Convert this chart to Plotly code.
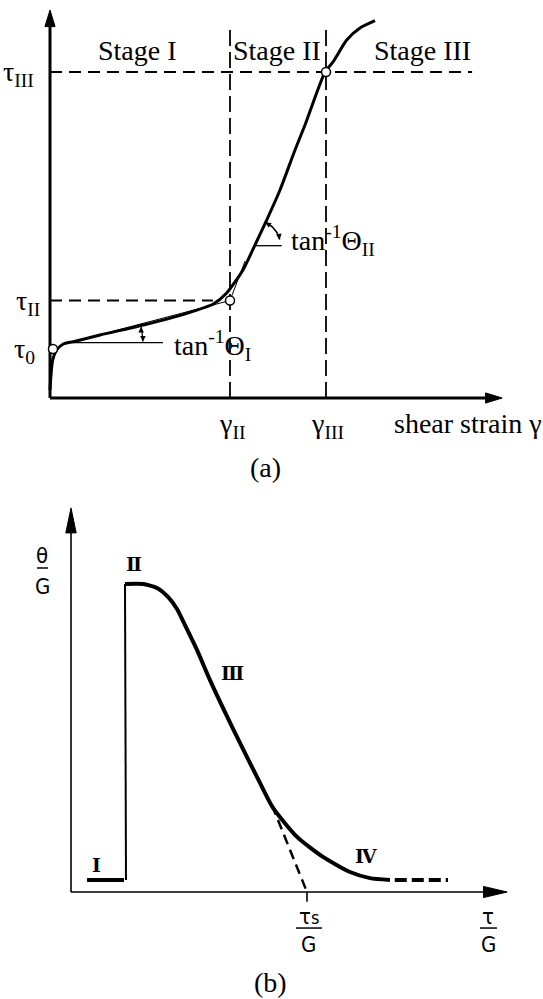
import numpy as np
import plotly.graph_objects as go

# ====================== DATA ======================
# Panel (a): resolved shear stress tau vs shear strain gamma (arbitrary units)
gamma_a = [0.0, 0.033, 0.09, 0.223, 0.443, 0.777, 1.667, 3.11, 4.557, 5.443, 5.89,
           6.433, 6.833, 7.223, 7.667, 8.167, 8.5, 9.167, 9.433, 9.89, 10.333, 10.833]
tau_a = [0.267, 0.767, 1.267, 1.6, 1.8, 1.877, 2.1, 2.433, 2.823, 3.133, 3.5,
         4.267, 5.1, 5.933, 6.933, 8.267, 9.1, 10.867, 11.2, 11.933, 12.333, 12.577]
tau_0 = 1.633
tau_II = 3.25
tau_III = 10.867
gamma_0 = 0.1
gamma_II = 6.0
gamma_III = 9.2
gamma_axis_end = 15.07
tau_axis_end = 12.93
# linear stage tangents
stageI_tangent_x = [0.777, gamma_II]
stageI_tangent_y = [1.877, tau_II]
stageII_tangent_x = [gamma_II, 6.5]
stageII_tangent_y = [tau_II, 4.56]
stage_labels = ["Stage I", "Stage II", "Stage III"]
stage_x = [2.9, 7.567, 12.4]
stage_y = 11.6

# Panel (b): hardening rate theta/G vs tau/G (arbitrary units)
stage1_x = [0.339, 1.123]
stage1_y = [0.039, 0.039]
rise_x = [1.165, 1.144]
rise_y = [0.039, 1.0]
tau_b = [1.144, 1.525, 1.822, 2.055, 2.246, 2.436, 2.669, 2.945, 3.496, 4.004,
         4.280, 4.788, 5.339, 5.911, 6.335, 6.758]
theta_b = [1.0, 1.0, 0.987, 0.958, 0.919, 0.860, 0.786, 0.688, 0.510, 0.354,
           0.273, 0.179, 0.114, 0.065, 0.045, 0.039]
stage4_x = [6.86, 7.987]
stage4_y = [0.039, 0.039]
extrap_x = [4.258, 5.0]
extrap_y = [0.282, 0.0]
tau_s = 5.0
tau_b_axis_end = 9.24
theta_axis_end = 1.247

# ====================== FIGURE ======================
fig = go.Figure()


def axes_of(p):
    return ("x", "y") if p == "a" else ("x2", "y2")


def line(p, xs, ys, width, dash="solid", shape="linear", smoothing=1.0):
    xa, ya = axes_of(p)
    fig.add_trace(go.Scatter(
        x=xs, y=ys, xaxis=xa, yaxis=ya, mode="lines",
        line=dict(color="black", width=width, dash=dash, shape=shape,
                  smoothing=smoothing),
        hoverinfo="skip", showlegend=False))


def arrow_head(p, tip_x, tip_y, direction, length, half):
    xa, ya = axes_of(p)
    if direction == "up":
        xs = [tip_x, tip_x - half, tip_x + half, tip_x]
        ys = [tip_y, tip_y - length, tip_y - length, tip_y]
    else:
        xs = [tip_x, tip_x - length, tip_x - length, tip_x]
        ys = [tip_y, tip_y + half, tip_y - half, tip_y]
    fig.add_trace(go.Scatter(
        x=xs, y=ys, xaxis=xa, yaxis=ya, mode="lines", fill="toself",
        fillcolor="black", line=dict(color="black", width=1),
        hoverinfo="skip", showlegend=False))


# ---------- panel (a) ----------
line("a", [0, 0], [0, tau_axis_end - 0.4], 3)
line("a", [0, gamma_axis_end - 0.4], [0, 0], 3)
arrow_head("a", 0, tau_axis_end, "up", 0.55, 0.17)
arrow_head("a", gamma_axis_end, 0, "right", 0.55, 0.17)

line("a", [0, 14.07], [tau_III, tau_III], 2, dash="12px,7px")
line("a", [0, 5.43], [tau_II, tau_II], 2, dash="12px,7px")
line("a", [gamma_II, gamma_II], [0, 12.33], 1.8, dash="16px,6px")
line("a", [gamma_III, gamma_III], [0, 12.33], 1.8, dash="16px,6px")

line("a", stageI_tangent_x, stageI_tangent_y, 1)
line("a", stageII_tangent_x, stageII_tangent_y, 1)

line("a", gamma_a, tau_a, 3, shape="spline", smoothing=0.6)

c1 = (0.767, 1.843)
line("a", [c1[0], 3.767], [c1[1], c1[1]], 1.3)
r1 = 2.33
ang1 = np.radians(np.linspace(1, 13, 12))
line("a", list(c1[0] + r1 * np.cos(ang1)), list(c1[1] + r1 * np.sin(ang1)), 1.2)

c2 = (6.833, 5.077)
line("a", [c2[0], 7.723], [c2[1], c2[1]], 1.3)
r2 = 0.85
ang2 = np.radians(np.linspace(14, 66, 14))
line("a", list(c2[0] + r2 * np.cos(ang2)), list(c2[1] + r2 * np.sin(ang2)), 1.6)

fig.add_trace(go.Scatter(
    x=[gamma_0, gamma_II, gamma_III], y=[tau_0, tau_II, tau_III],
    xaxis="x", yaxis="y", mode="markers",
    marker=dict(symbol="circle", size=9, color="white",
                line=dict(color="black", width=1.5)),
    hoverinfo="skip", showlegend=False))

# ---------- panel (b) ----------
line("b", [0, 0], [0, theta_axis_end - 0.08], 1.6)
line("b", [0, tau_b_axis_end - 0.5], [0, 0], 1.6)
arrow_head("b", 0, theta_axis_end, "up", 0.081, 0.11)
arrow_head("b", tau_b_axis_end, 0, "right", 0.5, 0.018)

line("b", stage1_x, stage1_y, 4)
line("b", rise_x, rise_y, 2)
line("b", tau_b, theta_b, 4, shape="spline", smoothing=0.6)
line("b", stage4_x, stage4_y, 4, dash="12px,5px")
line("b", extrap_x, extrap_y, 2.5, dash="10px,6px")
line("b", [tau_s, tau_s], [0, -0.032], 1.6)

line("b", [-0.72, -0.487], [1.052, 1.052], 1.5)
line("b", [4.767, 5.318], [-0.117, -0.117], 1.5)
line("b", [8.665, 9.025], [-0.117, -0.117], 1.5)

# ====================== TEXT ======================
SERIF = dict(family="Liberation Serif", size=28, color="black")
SANS = dict(family="DejaVu Sans Condensed, Liberation Sans Narrow, DejaVu Sans", size=22, color="black")
ROMAN = dict(family="DejaVu Serif", size=19, color="black", weight="bold")

ann = []


def text(p, x, y, s, font, xanchor="center", yanchor="middle"):
    xa, ya = axes_of(p)
    ann.append(dict(x=x, y=y, xref=xa, yref=ya, text=s, showarrow=False,
                    font=font, xanchor=xanchor, yanchor=yanchor))


for lab, sx in zip(stage_labels, stage_x):
    text("a", sx, stage_y, lab, SERIF)
text("a", -1.05, tau_III - 0.05, "τ<sub>III</sub>", SERIF)
text("a", -0.75, tau_II - 0.05, "τ<sub>II</sub>", SERIF)
text("a", -0.85, tau_0 - 0.05, "τ<sub>0</sub>", SERIF)
text("a", gamma_II + 0.05, -0.9, "γ<sub>II</sub>", SERIF)
text("a", gamma_III + 0.05, -0.9, "γ<sub>III</sub>", SERIF)
text("a", 13.93, -0.85, "shear strain γ", SERIF)
text("a", 7.17, -2.3, "(a)", SERIF)
text("a", 4.05, 1.75, "tan<sup>-1</sup>Θ<sub>I</sub>", SERIF, xanchor="left")
text("a", 7.95, 5.25, "tan<sup>-1</sup>Θ<sub>II</sub>", SERIF, xanchor="left")

text("b", 0.53, 0.088, "Ⅰ", ROMAN)
text("b", 1.335, 1.065, "Ⅱ", ROMAN)
text("b", 3.432, 0.711, "Ⅲ", ROMAN)
text("b", 6.25, 0.117, "Ⅳ", ROMAN)
text("b", -0.605, 1.094, "θ", SANS)
text("b", -0.605, 0.992, "G", SANS)
text("b", 5.04, -0.08, "τ<span style='font-size:18px'>s</span>", SANS)
text("b", 5.04, -0.172, "G", SANS)
text("b", 8.845, -0.078, "τ", SANS)
text("b", 8.845, -0.172, "G", SANS)
text("b", 4.237, -0.295, "(b)", SERIF)

for (x0, y0, axp, ayp) in [
        (c1[0] + r1 * np.cos(np.radians(13)), c1[1] + r1 * np.sin(np.radians(13)), 0, 6),
        (c1[0] + r1 * np.cos(np.radians(1)), c1[1] + r1 * np.sin(np.radians(1)), 0, -6),
        (c2[0] + r2 * np.cos(np.radians(66)), c2[1] + r2 * np.sin(np.radians(66)), 5, 3),
        (c2[0] + r2 * np.cos(np.radians(14)), c2[1] + r2 * np.sin(np.radians(14)), -1, -6)]:
    ann.append(dict(x=x0, y=y0, xref="x", yref="y", ax=axp, ay=ayp,
                    showarrow=True, arrowhead=2, arrowsize=0.8, arrowwidth=1.4,
                    arrowcolor="black", standoff=0, text=""))

axis_off = dict(visible=False, showgrid=False, zeroline=False, fixedrange=True)
fig.update_layout(
    width=543, height=999,
    margin=dict(l=0, r=0, t=0, b=0),
    paper_bgcolor="white", plot_bgcolor="white",
    showlegend=False,
    xaxis=dict(domain=[0, 1], range=[-1.6667, 16.4333], anchor="y", **axis_off),
    yaxis=dict(domain=[0.51952, 1], range=[-2.7333, 13.2667], anchor="x", **axis_off),
    xaxis2=dict(domain=[0, 1], range=[-1.5042, 10.0], anchor="y2", **axis_off),
    yaxis2=dict(domain=[0, 0.51952], range=[-0.3474, 1.3377], anchor="x2", **axis_off),
    annotations=ann,
)

fig.write_html("out.html", config={"displayModeBar": False},
               post_script="document.body.style.margin='0px';document.body.style.overflow='hidden';")
